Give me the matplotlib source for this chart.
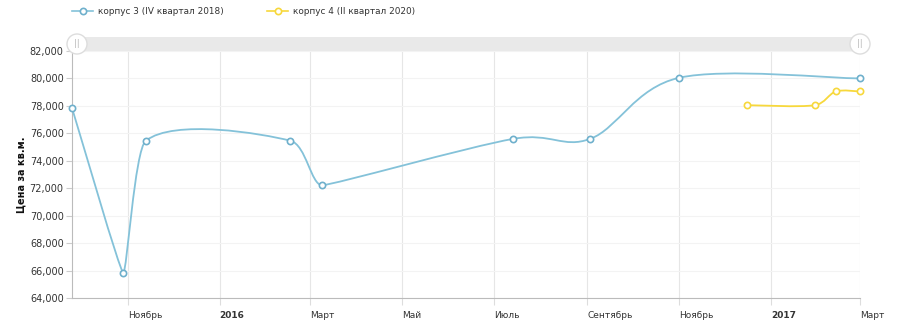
import numpy as np
import matplotlib
matplotlib.use("Agg")
import matplotlib.pyplot as plt
import matplotlib.dates as mdates
import matplotlib.transforms as mtrans
from matplotlib.path import Path
from matplotlib.patches import PathPatch, Circle, Rectangle
from datetime import datetime

# data
k3_dates = ["2015-09-25", "2015-10-29", "2015-11-13", "2016-02-17", "2016-03-09",
            "2016-07-14", "2016-09-03", "2016-11-01", "2017-03-01"]
k3_prices = [77850, 65850, 75460, 75460, 72220, 75600, 75600, 80050, 80000]
k4_dates = ["2016-12-16", "2017-01-30", "2017-02-13", "2017-03-01"]
k4_prices = [78050, 78050, 79050, 79050]

series_names = ["корпус 3 (IV квартал 2018)", "корпус 4 (II квартал 2020)"]
tick_dates = ["2015-11-01", "2016-01-01", "2016-03-01", "2016-05-01", "2016-07-01",
              "2016-09-01", "2016-11-01", "2017-01-01", "2017-03-01"]
tick_labels = ["Ноябрь", "2016", "Март", "Май", "Июль", "Сентябрь", "Ноябрь", "2017", "Март"]
y_ticks = list(range(64000, 82001, 2000))
x_start, x_end = "2015-09-25", "2017-03-01"

BLUE = "#84c2d9"
BLUE_EDGE = "#6fb0cc"
YELLOW = "#f7d83c"
TEXT = "#333333"


def to_num(ds):
    return mdates.date2num([datetime.strptime(d, "%Y-%m-%d") for d in ds])


def smooth_path(x, y, k=6.0):
    # catmull-rom style bezier; handles shortened on short segments and at sharp turns
    x = np.asarray(x, float)
    y = np.asarray(y, float)
    n = len(x)
    tx = np.empty(n)
    ty = np.empty(n)
    for i in range(n):
        a, b = max(i - 1, 0), min(i + 1, n - 1)
        tx[i] = (x[b] - x[a]) / k
        ty[i] = (y[b] - y[a]) / k
        if 0 < i < n - 1:
            d1, d2 = y[i] - y[i - 1], y[i + 1] - y[i]
            if d1 * d2 < 0 and min(abs(d1), abs(d2)) > 500:
                tx[i] *= 0.3
                ty[i] *= 0.3
    verts = [(x[0], y[0])]
    codes = [Path.MOVETO]
    for i in range(n - 1):
        h = x[i + 1] - x[i]
        s1 = min(1.0, 0.5 * h / tx[i]) if tx[i] > 0 else 1.0
        s2 = min(1.0, 0.5 * h / tx[i + 1]) if tx[i + 1] > 0 else 1.0
        c1 = (x[i] + tx[i] * s1, y[i] + ty[i] * s1)
        c2 = (x[i + 1] - tx[i + 1] * s2, y[i + 1] - ty[i + 1] * s2)
        verts += [c1, c2, (x[i + 1], y[i + 1])]
        codes += [Path.CURVE4] * 3
    return Path(verts, codes)


fig = plt.figure(figsize=(9, 3.25), dpi=100)
ax = fig.add_axes([72 / 900, 1 - 298 / 325, (860 - 72) / 900, (298 - 51) / 325])

series = [(k3_dates, k3_prices, BLUE, BLUE_EDGE), (k4_dates, k4_prices, YELLOW, YELLOW)]
handles = []
for (ds, vals, col, edge), name in zip(series, series_names):
    xs = to_num(ds)
    ax.add_patch(PathPatch(smooth_path(xs, vals), facecolor="none", edgecolor=col,
                           lw=1.3, zorder=3, clip_on=False))
    ax.plot(xs, vals, ls="none", marker="o", ms=4.5, mfc="white", mec=edge,
            mew=1.2, zorder=4, clip_on=False)
    handles.append(plt.Line2D([], [], color=col, lw=1.2, marker="o", ms=4.5,
                              mfc="white", mec=edge, mew=1.2))

ax.set_xlim(to_num([x_start])[0], to_num([x_end])[0])
ax.set_ylim(64000, 82000)
ax.set_yticks(y_ticks)
ax.set_yticklabels([f"{v:,}" for v in y_ticks], fontsize=7, color=TEXT)
ax.set_xticks(to_num(tick_dates))
ax.set_xticklabels(tick_labels, fontsize=6.5, color=TEXT, ha="left")
shift = mtrans.ScaledTranslation(2 / 100, 0, fig.dpi_scale_trans)
for lab in ax.get_xticklabels():
    if lab.get_text().isdigit():
        lab.set_fontweight("bold")
    lab.set_transform(lab.get_transform() + shift)
ax.tick_params(axis="x", length=5, color="#dddddd", pad=4)
ax.tick_params(axis="y", length=4, color="#cccccc", pad=2)

ax.grid(axis="x", color="#e6e6e6", lw=0.8)
ax.grid(axis="y", color="#f3f3f3", lw=0.8)
ax.set_axisbelow(True)
for s in ["top", "right"]:
    ax.spines[s].set_visible(False)
ax.spines["left"].set_color("#bbbbbb")
ax.spines["bottom"].set_color("#bbbbbb")
ax.set_ylabel("Цена за кв.м.", fontsize=7, fontweight="bold", color="#111111")
ax.yaxis.set_label_coords(-45 / 788, 0.5)

# scrollbar strip on top
ov = fig.add_axes([0, 0, 1, 1], zorder=5)
ov.set_xlim(0, 900)
ov.set_ylim(325, 0)
ov.axis("off")
ov.add_patch(Rectangle((72, 37), 788, 14, facecolor="#e9e9e9", edgecolor="none"))
for cx in (77, 860):
    ov.add_patch(Circle((cx, 44), 10, facecolor="white", edgecolor="#dddddd", lw=1))
    ov.text(cx, 44, "||", fontsize=6, color="#bbbbbb", ha="center", va="center")

fig.legend(handles, series_names, loc="upper left", bbox_to_anchor=(64 / 900, 1.003),
           ncol=2, frameon=False, fontsize=6.4, handlelength=2.4, handletextpad=0.5,
           columnspacing=4.9, labelcolor=TEXT)

fig.savefig("out.png", dpi=100)
